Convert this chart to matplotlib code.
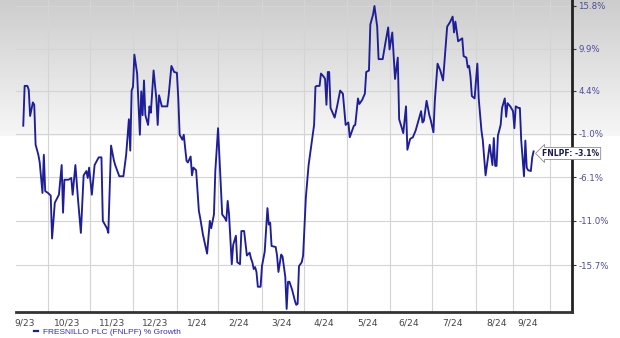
# FNLPF % growth chart (zacks style)
import numpy as np
import pandas as pd
import matplotlib
matplotlib.use('Agg')
import matplotlib.pyplot as plt
from matplotlib.ticker import NullLocator

# DATA
dates = [
    '2023-09-13', '2023-09-14', '2023-09-16', '2023-09-17', '2023-09-18', '2023-09-20', '2023-09-21',
    '2023-09-22', '2023-09-24', '2023-09-25', '2023-09-27', '2023-09-28', '2023-09-29',
    '2023-10-01', '2023-10-03', '2023-10-04', '2023-10-06', '2023-10-08', '2023-10-09', '2023-10-11',
    '2023-10-12', '2023-10-13', '2023-10-16', '2023-10-18', '2023-10-19', '2023-10-21', '2023-10-23',
    '2023-10-25', '2023-10-27', '2023-10-29', '2023-10-30', '2023-10-31',
    '2023-11-02', '2023-11-04', '2023-11-07', '2023-11-09', '2023-11-10', '2023-11-13', '2023-11-14',
    '2023-11-16', '2023-11-18', '2023-11-19', '2023-11-22', '2023-11-25', '2023-11-27', '2023-11-29',
    '2023-11-30',
    '2023-12-01', '2023-12-02', '2023-12-03', '2023-12-05', '2023-12-07', '2023-12-08', '2023-12-09',
    '2023-12-10', '2023-12-11', '2023-12-13', '2023-12-14', '2023-12-15', '2023-12-17', '2023-12-19',
    '2023-12-20', '2023-12-21', '2023-12-23', '2023-12-27', '2023-12-28', '2023-12-30',
    '2024-01-01', '2024-01-03', '2024-01-04', '2024-01-05', '2024-01-07', '2024-01-08', '2024-01-10',
    '2024-01-11', '2024-01-13', '2024-01-14', '2024-01-15', '2024-01-17', '2024-01-19', '2024-01-20',
    '2024-01-22', '2024-01-25', '2024-01-27', '2024-01-28', '2024-01-30', '2024-01-31',
    '2024-02-02', '2024-02-05', '2024-02-07', '2024-02-08', '2024-02-09', '2024-02-10', '2024-02-12',
    '2024-02-13', '2024-02-15', '2024-02-16', '2024-02-18', '2024-02-19', '2024-02-21', '2024-02-23',
    '2024-02-25', '2024-02-26', '2024-02-27', '2024-02-28', '2024-02-29',
    '2024-03-01', '2024-03-02', '2024-03-04', '2024-03-05', '2024-03-07', '2024-03-09', '2024-03-10',
    '2024-03-11', '2024-03-12', '2024-03-15', '2024-03-16', '2024-03-17', '2024-03-19', '2024-03-20',
    '2024-03-21', '2024-03-22', '2024-03-23', '2024-03-24', '2024-03-25', '2024-03-27', '2024-03-29',
    '2024-03-30', '2024-03-31',
    '2024-04-01', '2024-04-03', '2024-04-04', '2024-04-06', '2024-04-08', '2024-04-10', '2024-04-12',
    '2024-04-13', '2024-04-14', '2024-04-16', '2024-04-17', '2024-04-19', '2024-04-20', '2024-04-21',
    '2024-04-22', '2024-04-23', '2024-04-24', '2024-04-27', '2024-04-29',
    '2024-05-01', '2024-05-03', '2024-05-05', '2024-05-07', '2024-05-08', '2024-05-11', '2024-05-12',
    '2024-05-14', '2024-05-15', '2024-05-17', '2024-05-19', '2024-05-20', '2024-05-22', '2024-05-23',
    '2024-05-25', '2024-05-26', '2024-05-28', '2024-05-29',
    '2024-06-01', '2024-06-03', '2024-06-05', '2024-06-06', '2024-06-08', '2024-06-10', '2024-06-12',
    '2024-06-13', '2024-06-15', '2024-06-16', '2024-06-18', '2024-06-19', '2024-06-21', '2024-06-23',
    '2024-06-25', '2024-06-27', '2024-06-29', '2024-06-30',
    '2024-07-01', '2024-07-03', '2024-07-05', '2024-07-06', '2024-07-08', '2024-07-09', '2024-07-11',
    '2024-07-13', '2024-07-15', '2024-07-18', '2024-07-20', '2024-07-22', '2024-07-23', '2024-07-24',
    '2024-07-26', '2024-07-29', '2024-07-30',
    '2024-08-01', '2024-08-02', '2024-08-03', '2024-08-04', '2024-08-05', '2024-08-07', '2024-08-09',
    '2024-08-10', '2024-08-12', '2024-08-13', '2024-08-15', '2024-08-17', '2024-08-18', '2024-08-20',
    '2024-08-21', '2024-08-22', '2024-08-23', '2024-08-24', '2024-08-26', '2024-08-27', '2024-08-29',
    '2024-08-30', '2024-08-31',
    '2024-09-02', '2024-09-04', '2024-09-05', '2024-09-06', '2024-09-08', '2024-09-09', '2024-09-10',
    '2024-09-12', '2024-09-13', '2024-09-14', '2024-09-15', '2024-09-17', '2024-09-18', '2024-09-19',
]

growth = [
    0.0, 5.0, 5.0, 4.5, 1.2, 2.9, 2.6,
    -2.3, -3.5, -4.4, -7.9, -3.5, -7.7,
    -7.9, -8.2, -12.9, -9.0, -8.4, -8.1, -4.7,
    -10.1, -6.4, -6.4, -6.2, -8.1, -4.7, -8.8,
    -12.3, -5.9, -5.4, -6.2, -5.0,
    -8.1, -4.7, -3.8, -3.8, -11.0, -11.8, -12.3,
    -2.4, -4.1, -4.7, -6.0, -6.0, -3.5, 0.8,
    -3.0,
    4.4, 4.9, 9.1, 6.6, -1.1, 4.3, 1.3,
    5.7, 1.3, 0.1, 2.4, 1.6, 7.0, 3.4,
    0.1, 3.8, 2.4, 2.4, 3.8, 7.6,
    6.8, 6.7, 3.4, -1.1, -1.7, -1.1, -4.2,
    -4.4, -3.7, -5.9, -5.0, -5.3, -9.9, -10.7,
    -12.5, -14.5, -11.0, -11.8, -10.3, -5.4,
    -0.3, -10.3, -10.7, -11.0, -8.8, -10.3, -15.6,
    -13.6, -12.6, -15.4, -15.6, -12.1, -12.1, -14.7,
    -14.4, -15.0, -15.4, -16.1, -15.9,
    -16.4, -17.9, -17.9, -15.8, -14.3, -9.6, -11.4,
    -11.2, -13.7, -13.8, -14.7, -16.4, -14.6, -14.8,
    -15.9, -16.9, -20.1, -17.4, -17.4, -18.2, -19.3,
    -19.7, -19.6,
    -15.8, -15.4, -14.7, -8.4, -4.7, -2.3, 0.1,
    4.9, 5.0, 5.0, 6.6, 6.2, 5.9, 2.6,
    6.8, 6.8, 2.2, 1.0, 2.6,
    4.4, 4.0, 0.1, 0.4, -1.4, 0.0, 0.1,
    3.4, 2.7, 3.2, 4.0, 6.8, 7.0, 13.2,
    14.6, 15.8, 12.9, 8.5,
    8.5, 10.7, 12.8, 9.8, 12.1, 5.9, 8.7,
    0.8, -0.3, -0.9, 2.4, -2.9, -1.6, -1.4,
    -0.6, 0.6, 1.8, 0.4,
    0.6, 3.1, 1.3, 0.7, -0.8, 3.1, 7.9,
    7.0, 5.7, 12.9, 13.5, 14.3, 12.1, 13.6,
    10.9, 11.3, 8.9,
    8.7, 7.4, 7.6, 6.2, 3.7, 3.4, 7.9,
    3.4, -0.6, -1.8, -5.9, -3.5, -2.3, -4.7,
    -1.5, -4.8, -4.8, -1.2, 0.1, 2.2, 3.4,
    1.1, 2.8,
    2.4, 1.8, -0.3, 2.4, 2.2, 2.2, -1.8,
    -6.0, -1.8, -5.0, -5.3, -5.4, -3.8, -3.1,
]

ytick_vals = [15.8, 9.9, 4.4, -1.0, -6.1, -11.0, -15.7]
ytick_labels = ['15.8%', '9.9%', '4.4%', '-1.0%', '-6.1%', '-11.0%', '-15.7%']

xtick_dates = ['2023-09-14', '2023-10-15', '2023-11-17', '2023-12-18', '2024-01-18', '2024-02-17',
               '2024-03-19', '2024-04-19', '2024-05-21', '2024-06-20', '2024-07-22', '2024-08-23',
               '2024-09-15']
xtick_labels = ['9/23', '10/23', '11/23', '12/23', '1/24', '2/24', '3/24',
                '4/24', '5/24', '6/24', '7/24', '8/24', '9/24']
xgrid_dates = ['2023-10-01', '2023-11-01', '2023-12-02', '2024-01-03', '2024-02-02', '2024-03-05',
               '2024-04-05', '2024-05-06', '2024-06-06', '2024-07-07', '2024-08-08', '2024-09-04',
               '2024-10-01']

series_name = 'FRESNILLO PLC (FNLPF) % Growth'
last_label = 'FNLPF: -3.1%'

LINE = '#1e1e98'

# percent growth is shown on a log-of-price-ratio scale
def fwd(p):
    return np.log1p(np.asarray(p, dtype=float) / 100.0)

def inv(v):
    return np.expm1(np.asarray(v, dtype=float)) * 100.0


fig = plt.figure(figsize=(6.2, 3.38), dpi=100)

# gray-to-white background behind everything
bg = fig.add_axes([0, 0, 1, 1], zorder=0)
yy = np.linspace(0, 1, 338)
cut = 136 / 338
shade = np.where(yy < cut, 0.80 + 0.165 * yy / cut, 1.0)
bg.imshow(shade[:, None], cmap='gray', vmin=0, vmax=1, aspect='auto', extent=[0, 1, 0, 1])
bg.axis('off')

ax = fig.add_axes([16 / 620, 26 / 338, 556 / 620, 312 / 338], zorder=1)
ax.set_facecolor('none')

x = pd.to_datetime(dates)
ax.plot(x, growth, color=LINE, lw=1.35, label=series_name, zorder=3)

ax.set_yscale('function', functions=(fwd, inv))
ax.set_ylim(-20.4, 16.65)
ax.set_xlim(pd.Timestamp('2023-09-07 17:00'), pd.Timestamp('2024-10-17'))

ax.set_yticks(ytick_vals)
ax.set_yticklabels(ytick_labels)
ax.yaxis.set_minor_locator(NullLocator())
ax.yaxis.tick_right()
ax.tick_params(axis='y', length=3, width=0.8, color='#333333', labelsize=6.2,
               labelcolor='#4b4b9b', pad=1.5)

ax.set_xticks(pd.to_datetime(xtick_dates))
ax.set_xticklabels(xtick_labels)
ax.set_xticks(pd.to_datetime(xgrid_dates), minor=True)
ax.tick_params(axis='x', which='both', length=0, labelsize=6.6, labelcolor='#444444', pad=5)

ax.set_axisbelow(True)
ax.grid(axis='y', which='major', color='#d4d4d4', lw=0.8)
ax.grid(axis='x', which='minor', color='#d4d4d4', lw=0.8)

for s in ['left', 'top']:
    ax.spines[s].set_visible(False)
ax.spines['right'].set_linewidth(2)
ax.spines['right'].set_color('#222222')
ax.spines['bottom'].set_linewidth(2)
ax.spines['bottom'].set_color('#333333')

# tag with the last value
ax.annotate(last_label, xy=(x[-1], growth[-1]), xytext=(37, -2), textcoords='offset pixels',
            ha='center', va='center', fontsize=5.5, fontweight='bold', color='#1a1a4a',
            annotation_clip=False, zorder=5,
            bbox=dict(boxstyle='larrow,pad=0.2', fc='white', ec='#8a8a8a', lw=0.6))

leg = fig.legend(loc='center left', bbox_to_anchor=(34 / 620, 1 - 332 / 338), frameon=False,
                 handlelength=0.5, handletextpad=0.6, borderpad=0, borderaxespad=0,
                 prop={'family': 'Liberation Sans', 'size': 6}, labelcolor='#3333aa')
for h in leg.get_lines():
    h.set_linewidth(1.6)

fig.savefig('out.png', dpi=100)
